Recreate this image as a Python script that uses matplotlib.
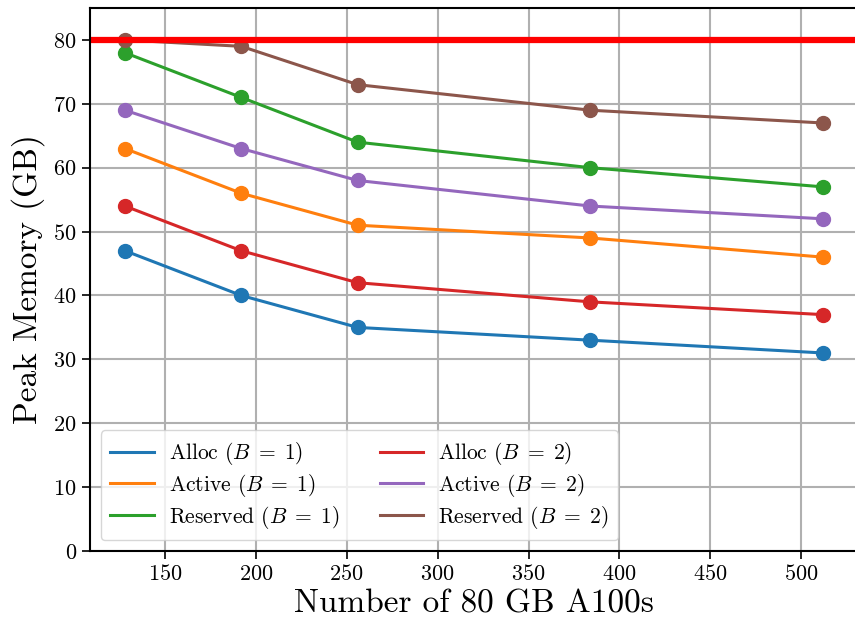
import matplotlib
matplotlib.use("Agg")
import matplotlib.pyplot as plt

plt.rcParams["font.family"] = "cmr10"
plt.rcParams["mathtext.fontset"] = "cm"
plt.rcParams["axes.formatter.use_mathtext"] = True

num_gpus = [128, 192, 256, 384, 512]
alloc_b1 = [47, 40, 35, 33, 31]
active_b1 = [63, 56, 51, 49, 46]
reserved_b1 = [78, 71, 64, 60, 57]
alloc_b2 = [54, 47, 42, 39, 37]
active_b2 = [69, 63, 58, 54, 52]
reserved_b2 = [80, 79, 73, 69, 67]
memory_limit = 80

series = [
    (r"Alloc ($B\;=\;1$)", alloc_b1, "tab:blue"),
    (r"Active ($B\;=\;1$)", active_b1, "tab:orange"),
    (r"Reserved ($B\;=\;1$)", reserved_b1, "tab:green"),
    (r"Alloc ($B\;=\;2$)", alloc_b2, "tab:red"),
    (r"Active ($B\;=\;2$)", active_b2, "tab:purple"),
    (r"Reserved ($B\;=\;2$)", reserved_b2, "tab:brown"),
]

fig = plt.figure(figsize=(8.55, 6.21), dpi=100)
ax = fig.add_axes([90 / 855, 70 / 621, 768 / 855, 543 / 621])

for label, values, color in series:
    ax.plot(num_gpus, values, color=color, lw=2.2, label=label)
    ax.plot(num_gpus, values, "o", color=color, ms=10)

ax.axhline(memory_limit, color="red", lw=4.5)

ax.set_xlim(108.8, 531.2)
ax.set_ylim(0, 85)
ax.set_xticks([150, 200, 250, 300, 350, 400, 450, 500])
ax.set_yticks(range(0, 81, 10))
ax.tick_params(labelsize=16, length=6, width=1.2)
ax.grid(True, color="#b0b0b0", lw=1.5)
ax.set_axisbelow(True)
for spine in ax.spines.values():
    spine.set_linewidth(1.5)
ax.spines["right"].set_visible(False)

ax.set_xlabel("Number of 80 GB A100s", fontsize=24, labelpad=4)
ax.set_ylabel("Peak Memory (GB)", fontsize=24, labelpad=6)

ax.legend(loc="lower left", ncol=2, fontsize=15.5, handlelength=2.0,
          columnspacing=1.9, borderpad=0.45, labelspacing=0.22,
          handletextpad=0.7)

fig.savefig("out.png", dpi=100)
